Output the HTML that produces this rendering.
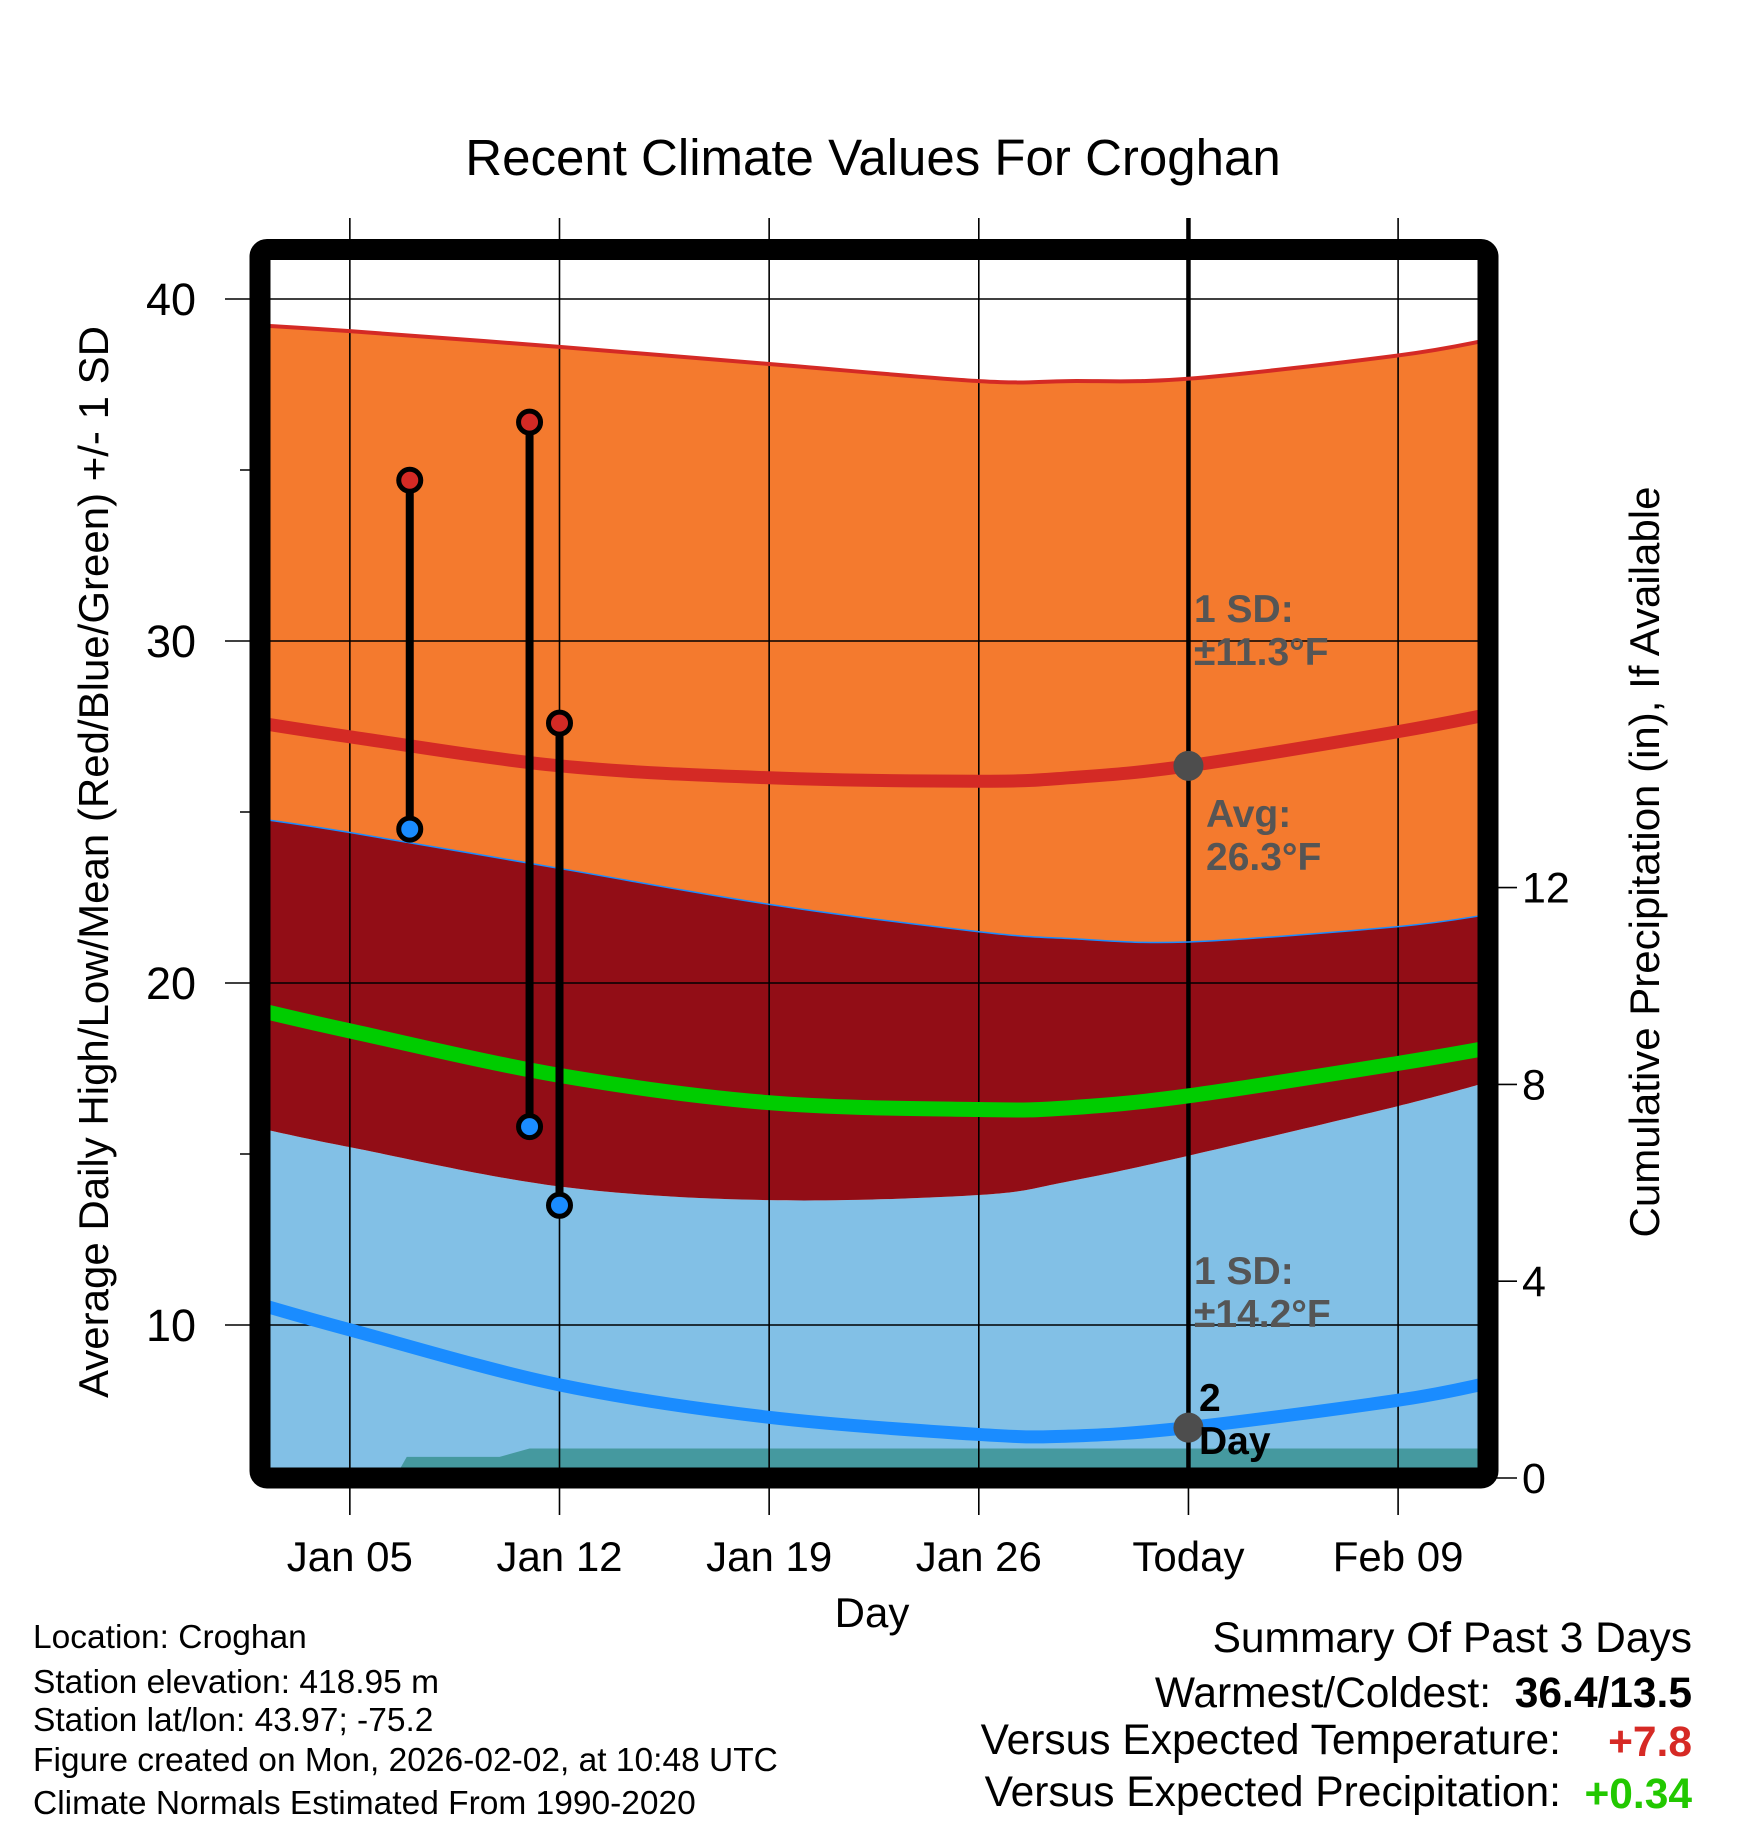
<!DOCTYPE html>
<html><head><meta charset="utf-8">
<style>
html,body{margin:0;padding:0;background:#fff;}
svg{display:block;font-family:"Liberation Sans",Arial,sans-serif;}
</style></head>
<body>
<svg id="chart" width="1748" height="1828" viewBox="0 0 1748 1828" xmlns="http://www.w3.org/2000/svg">
<defs><clipPath id="plotclip"><rect x="260" y="249" width="1228" height="1229"/></clipPath></defs>
<text x="873" y="175" font-size="51" text-anchor="middle">Recent Climate Values For Croghan</text>
<g id="fills" clip-path="url(#plotclip)"></g>
<g id="grid"></g>
<g id="lines" clip-path="url(#plotclip)"></g>
<g id="marks"></g>
<rect x="260" y="249.5" width="1228" height="1228.5" rx="7" fill="none" stroke="#000" stroke-width="21"/>
<g id="axes"></g>
<text transform="translate(108,862) rotate(-90)" font-size="42" text-anchor="middle">Average Daily High/Low/Mean (Red/Blue/Green) +/- 1 SD</text>
<text transform="translate(1659,862) rotate(-90)" font-size="42" text-anchor="middle">Cumulative Precipitation (in), If Available</text>
<text x="872" y="1627" font-size="42" text-anchor="middle">Day</text>
<g font-size="33.5">
<text x="33" y="1648">Location: Croghan</text>
<text x="33" y="1693">Station elevation: 418.95 m</text>
<text x="33" y="1731">Station lat/lon: 43.97; -75.2</text>
<text x="33" y="1771">Figure created on Mon, 2026-02-02, at 10:48 UTC</text>
<text x="33" y="1814">Climate Normals Estimated From 1990-2020</text>
</g>
<g font-size="42.5">
<text x="1692" y="1652" text-anchor="end">Summary Of Past 3 Days</text>
<text x="1491" y="1707" text-anchor="end">Warmest/Coldest:</text>
<text x="1692" y="1707" text-anchor="end" font-weight="bold">36.4/13.5</text>
<text x="1561" y="1754" text-anchor="end">Versus Expected Temperature:</text>
<text x="1692" y="1756" text-anchor="end" font-weight="bold" fill="#d62a25">+7.8</text>
<text x="1561" y="1806" text-anchor="end">Versus Expected Precipitation:</text>
<text x="1692" y="1808" text-anchor="end" font-weight="bold" fill="#22c800">+0.34</text>
</g>
</svg>
<script>
const normDays = [0, 3, 10, 17, 24, 27, 31, 38, 41];
const highPlusSD = [39.23, 39.06, 38.6, 38.1, 37.6, 37.6, 37.67, 38.35, 38.8];
const highAvg = [27.6, 27.2, 26.35, 26.0, 25.9, 26.0, 26.35, 27.35, 27.85];
const highMinusSD = [24.8, 24.4, 23.35, 22.3, 21.5, 21.3, 21.2, 21.65, 22.0];
const meanAvg = [19.2, 18.6, 17.3, 16.5, 16.3, 16.35, 16.7, 17.65, 18.1];
const lowPlusSD = [15.75, 15.2, 14.05, 13.65, 13.8, 14.2, 14.95, 16.4, 17.1];
const lowAvg = [10.6, 9.86, 8.25, 7.3, 6.8, 6.75, 7.0, 7.8, 8.3];
const precipDays = [0, 4.5, 4.9, 8.0, 9.0, 41];
const precipVals = [0, 0, 0.43, 0.43, 0.6, 0.6];
const obsDays = [5, 9, 10];
const obsHigh = [34.7, 36.4, 27.6];
const obsLow = [24.5, 15.8, 13.5];
const todayDay = 31;
const xTickDays = [3, 10, 17, 24, 31, 38];
const xTickLabels = ["Jan 05", "Jan 12", "Jan 19", "Jan 26", "Today", "Feb 09"];
const yTicks = [10, 20, 30, 40];
const yMinorTicks = [15, 25, 35];
const pTicks = [0, 4, 8, 12];

const NS = "http://www.w3.org/2000/svg";
const X = d => 260 + d * 29.95;
const Y = v => 299 + (40 - v) * 34.2;
const P = p => 1478 - p * 49.2;
const BOTTOM = 1478;

function mk(tag, attrs, parent) {
  const e = document.createElementNS(NS, tag);
  for (const k in attrs) e.setAttribute(k, attrs[k]);
  parent.appendChild(e);
  return e;
}
function smooth(pts) {
  let d = "M" + pts[0][0] + "," + pts[0][1];
  for (let i = 0; i < pts.length - 1; i++) {
    const p0 = pts[i - 1] || pts[i], p1 = pts[i], p2 = pts[i + 1], p3 = pts[i + 2] || p2;
    const c1 = [p1[0] + (p2[0] - p0[0]) / 6, p1[1] + (p2[1] - p0[1]) / 6];
    const c2 = [p2[0] - (p3[0] - p1[0]) / 6, p2[1] - (p3[1] - p1[1]) / 6];
    d += " C" + c1[0] + "," + c1[1] + " " + c2[0] + "," + c2[1] + " " + p2[0] + "," + p2[1];
  }
  return d;
}
const pts = arr => normDays.map((d, i) => [X(d), Y(arr[i])]);
function reversePath(p) { return p.slice().reverse(); }
function band(topArr, botArr) {
  const t = pts(topArr);
  const b = reversePath(pts(botArr));
  return smooth(t) + " L" + b[0][0] + "," + b[0][1] + smooth(b).replace(/^M[^ C]+/, "") + " Z";
}
const fills = document.getElementById("fills");
const lines = document.getElementById("lines");
const grid = document.getElementById("grid");
const marks = document.getElementById("marks");
const axes = document.getElementById("axes");

const lb = pts(lowPlusSD);
let el = mk("path", {d: smooth(lb) + " L" + X(41) + "," + BOTTOM + " L" + X(0) + "," + BOTTOM + " Z", fill: "#82c0e6"}, fills);


el = mk("path", {d: band(highMinusSD, lowPlusSD), fill: "#920d16"}, fills);


el = mk("path", {d: band(highPlusSD, highMinusSD), fill: "#f47a2e"}, fills);


let pd = "M" + X(precipDays[0]) + "," + P(precipVals[0]);
precipDays.forEach((d, i) => { pd += " L" + X(d) + "," + P(precipVals[i]); });
pd += " L" + X(41) + "," + BOTTOM + " L" + X(0) + "," + BOTTOM + " Z";
el = mk("path", {d: pd, fill: "#45999f"}, fills);



yTicks.forEach(v => {
  const g = mk("line", {x1: 225, x2: 1488, y1: Y(v), y2: Y(v), stroke: "#000", "stroke-width": 1.6}, grid);
  
  
  const t = mk("text", {x: 196, y: Y(v) + 16, "font-size": 45, "text-anchor": "end"}, axes);
  t.textContent = v;
  
  
});
yMinorTicks.forEach(v => {
  const g = mk("line", {x1: 240, x2: 260, y1: Y(v), y2: Y(v), stroke: "#000", "stroke-width": 1.6}, grid);
  
  
});
xTickDays.forEach((d, i) => {
  const isToday = xTickLabels[i] === "Today";
  const g = mk("line", {x1: X(d), x2: X(d), y1: 218, y2: isToday ? 1478 : 1515, stroke: "#000", "stroke-width": isToday ? 4.5 : 1.6}, grid);
  
  
  if (isToday) {
    const g2 = mk("line", {x1: X(d), x2: X(d), y1: 1478, y2: 1515, stroke: "#000", "stroke-width": 1.6}, axes);
    
    
  }
  const t = mk("text", {x: X(d), y: 1571, "font-size": 42, "text-anchor": "middle"}, axes);
  t.textContent = xTickLabels[i];
  
  
});
pTicks.forEach(p => {
  const g = mk("line", {x1: 1494, x2: 1517, y1: P(p), y2: P(p), stroke: "#000", "stroke-width": 1.6}, axes);
  
  
  const t = mk("text", {x: 1522, y: P(p) + 15, "font-size": 43}, axes);
  t.textContent = p;
  
  
});

el = mk("path", {d: smooth(pts(highMinusSD)), fill: "none", stroke: "#1a8cff", "stroke-width": 1.5}, lines);


el = mk("path", {d: smooth(pts(highPlusSD)), fill: "none", stroke: "#d42a25", "stroke-width": 4}, lines);


el = mk("path", {d: smooth(pts(highAvg)), fill: "none", stroke: "#d42a25", "stroke-width": 13}, lines);


el = mk("path", {d: smooth(pts(meanAvg)), fill: "none", stroke: "#00cc00", "stroke-width": 15}, lines);


el = mk("path", {d: smooth(pts(lowAvg)), fill: "none", stroke: "#1a8cff", "stroke-width": 13}, lines);



obsDays.forEach((d, i) => {
  const l = mk("line", {x1: X(d), x2: X(d), y1: Y(obsHigh[i]), y2: Y(obsLow[i]), stroke: "#000", "stroke-width": 8}, marks);
  
  
  const c1 = mk("circle", {cx: X(d), cy: Y(obsHigh[i]), r: 11, fill: "#d42a25", stroke: "#000", "stroke-width": 5}, marks);
  
  
  const c2 = mk("circle", {cx: X(d), cy: Y(obsLow[i]), r: 11, fill: "#1a8cff", stroke: "#000", "stroke-width": 5}, marks);
  
  
});
const ti = normDays.indexOf(todayDay);
el = mk("circle", {cx: X(todayDay), cy: Y(highAvg[ti]), r: 15, fill: "#4d4d4d"}, marks);


el = mk("circle", {cx: X(todayDay), cy: Y(lowAvg[ti]), r: 15, fill: "#4d4d4d"}, marks);



function label(x, y, l1, l2, color, name) {
  const t = mk("text", {x: x, y: y, "font-size": 39, "font-weight": "bold", fill: color}, marks);
  
  
  const s1 = mk("tspan", {x: x, dy: 0}, t); s1.textContent = l1;
  const s2 = mk("tspan", {x: x, dy: 43}, t); s2.textContent = l2;
}
label(1194, 622, "1 SD:", "±11.3°F", "#555", "high-sd-annotation");
label(1206, 827, "Avg:", "26.3°F", "#555", "avg-annotation");
label(1194, 1284, "1 SD:", "±14.2°F", "#555", "low-sd-annotation");
label(1199, 1411, "2", "Day", "#000", "two-day-annotation");
</script>
</body></html>
